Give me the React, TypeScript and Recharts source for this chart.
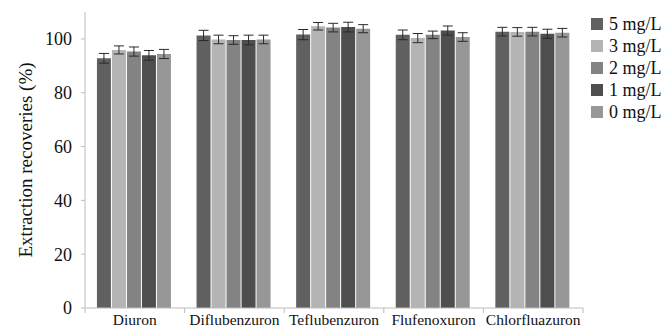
import { BarChart, Bar, XAxis, YAxis, ErrorBar, Label } from 'recharts'

const categories = ['Diuron', 'Diflubenzuron', 'Teflubenzuron', 'Flufenoxuron', 'Chlorfluazuron']
const seriesNames = ['5 mg/L', '3 mg/L', '2 mg/L', '1 mg/L', '0 mg/L']
const colors = ['#606060', '#b4b4b4', '#838383', '#4e4e4e', '#979797']

const mg5 = [92.8, 101.3, 101.6, 101.5, 102.7]
const mg3 = [95.9, 99.8, 104.7, 100.3, 102.6]
const mg2 = [95.3, 99.6, 104.2, 101.5, 102.7]
const mg1 = [93.9, 99.6, 104.4, 103.1, 101.9]
const mg0 = [94.4, 99.8, 103.8, 100.7, 102.3]

const err5 = [1.8, 1.9, 1.9, 1.8, 1.6]
const err3 = [1.5, 1.6, 1.4, 1.7, 1.6]
const err2 = [1.7, 1.6, 1.6, 1.4, 1.6]
const err1 = [1.8, 1.8, 1.8, 1.7, 1.7]
const err0 = [1.7, 1.6, 1.5, 1.6, 1.6]

const yTicks = [0, 20, 40, 60, 80, 100]

const values = [mg5, mg3, mg2, mg1, mg0]
const errors = [err5, err3, err2, err1, err0]

const data = categories.map((name, i) => {
  const row: Record<string, string | number> = { name }
  values.forEach((v, s) => {
    row[`s${s}`] = v[i]
    row[`e${s}`] = errors[s][i]
  })
  return row
})

const FONT = '"Liberation Serif", "Times New Roman", serif'
const AXIS_COLOR = '#bdbdbd'

function CategoryTick(props: any) {
  const { x, y, payload, index, visibleTicksCount } = props
  const half = payload.offset ?? 0
  const last = index === visibleTicksCount - 1
  return (
    <g>
      <line x1={x - half} x2={x - half} y1={y} y2={y + 5} stroke={AXIS_COLOR} />
      {last && <line x1={x + half} x2={x + half} y1={y} y2={y + 5} stroke={AXIS_COLOR} />}
      <text x={x} y={y + 17} textAnchor="middle" fontSize={15.5} fontFamily={FONT} fill="#111">
        {payload.value}
      </text>
    </g>
  )
}

function YTitle(props: any) {
  const vb = props.viewBox
  const cx = 25
  const cy = vb.y + vb.height / 2
  return (
    <text x={cx} y={cy} transform={`rotate(-90, ${cx}, ${cy})`} textAnchor="middle"
      dominantBaseline="central" fontSize={19} fontFamily={FONT} fill="#111">
      Extraction recoveries (%)
    </text>
  )
}

export default function App() {
  return (
    <div style={{ position: 'absolute', left: 0, top: 0, width: 670, height: 330, background: '#fff' }}>
      <BarChart width={670} height={330} data={data}
        margin={{ top: 12, right: 87, bottom: 0, left: 0 }}
        barCategoryGap="12%" barGap={1}>
        <XAxis dataKey="name" height={22} tickSize={0} tickMargin={0} tickLine={false}
          axisLine={{ stroke: AXIS_COLOR }} tick={<CategoryTick />} interval={0} />
        <YAxis width={85} domain={[0, 110]} ticks={yTicks} tickSize={4} tickMargin={9}
          axisLine={{ stroke: AXIS_COLOR }} tickLine={{ stroke: AXIS_COLOR }}
          tick={{ fontSize: 18, fontFamily: FONT, fill: '#111' }}>
          <Label content={<YTitle />} />
        </YAxis>
        {seriesNames.map((n, s) => (
          <Bar key={n} dataKey={`s${s}`} name={n} fill={colors[s]} isAnimationActive={false}>
            <ErrorBar dataKey={`e${s}`} width={5} stroke="#2a2a2a" strokeWidth={1} />
          </Bar>
        ))}
      </BarChart>
      <div style={{ position: 'absolute', left: 591, top: 13, fontFamily: FONT, fontSize: 18, color: '#111' }}>
        {seriesNames.map((n, s) => (
          <div key={n} style={{ display: 'flex', alignItems: 'center', height: 22 }}>
            <span style={{ width: 12, height: 12, background: colors[s], marginRight: 6, display: 'inline-block' }} />
            <span>{n}</span>
          </div>
        ))}
      </div>
    </div>
  )
}
